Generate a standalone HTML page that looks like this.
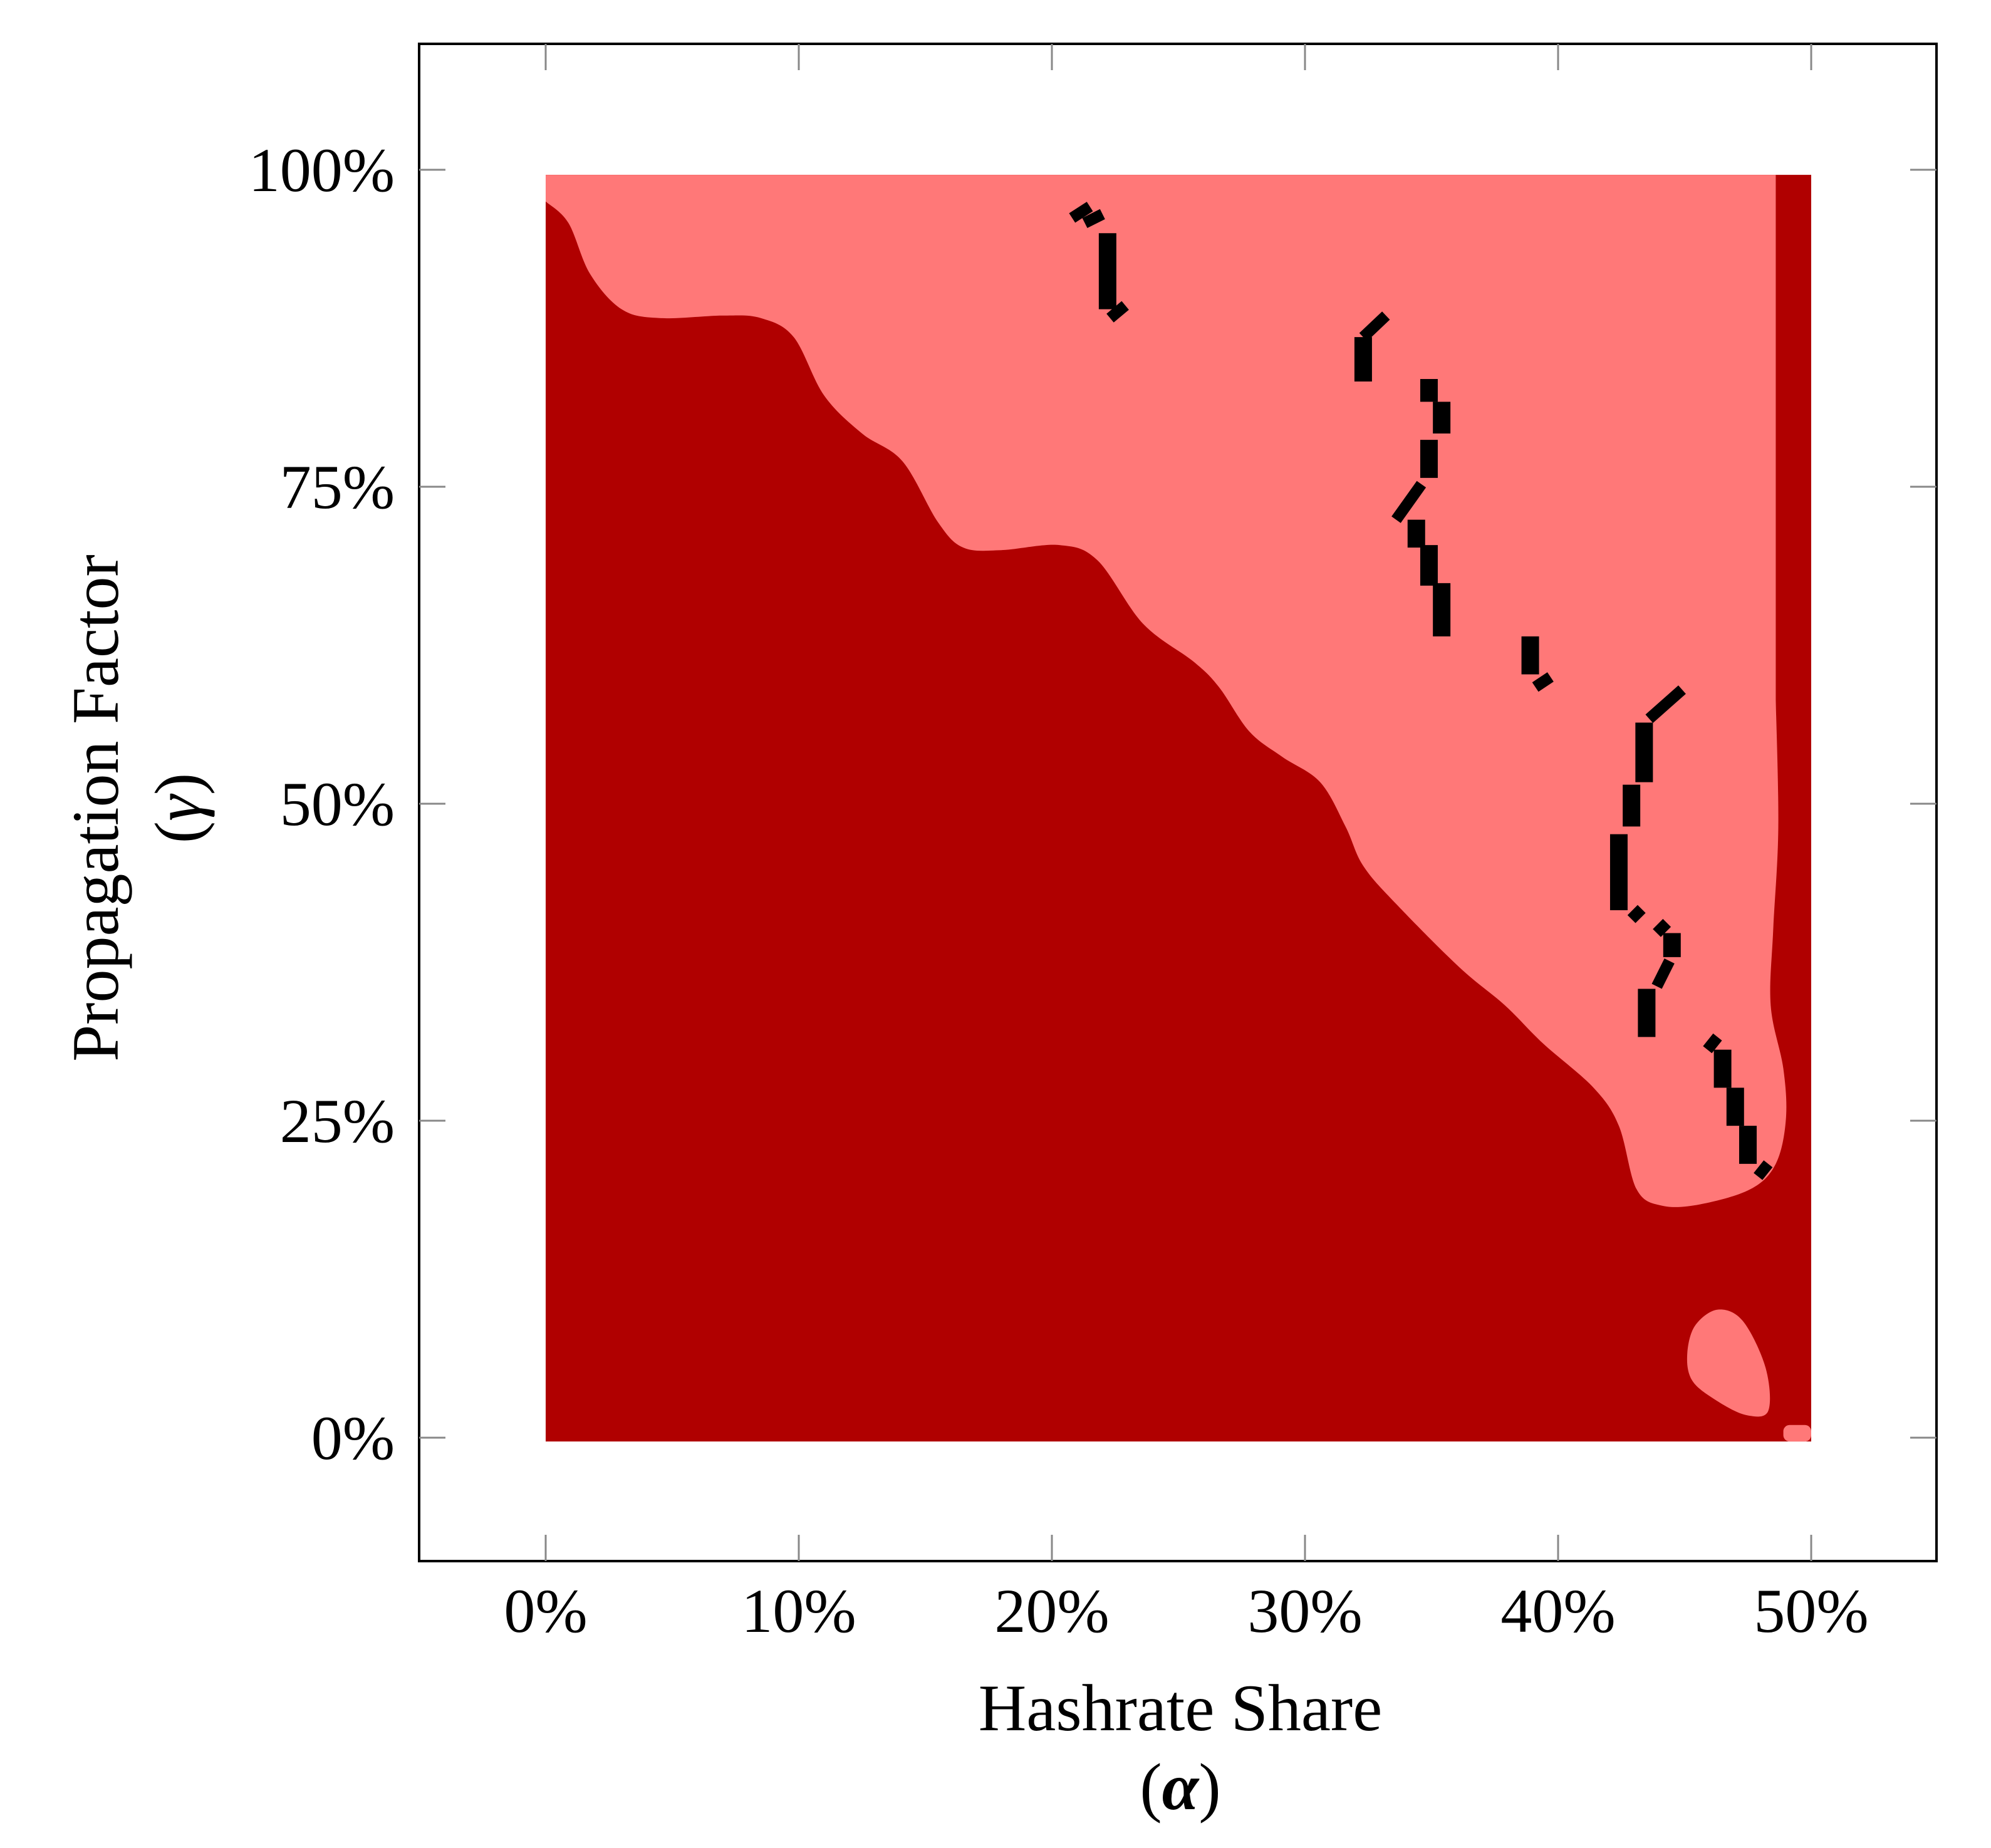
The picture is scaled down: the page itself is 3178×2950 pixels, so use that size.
<!DOCTYPE html>
<html><head><meta charset="utf-8"><style>html,body{margin:0;padding:0;background:#fff}svg{display:block}text{font-family:"Liberation Serif",serif;fill:#000}</style></head>
<body>
<svg id="chart" width="3178" height="2950" viewBox="0 0 3178 2950" xmlns="http://www.w3.org/2000/svg">
<g id="plot"></g>
<g id="marks"></g>
<rect x="669" y="70" width="2422" height="2422" fill="none" stroke="#000" stroke-width="4"/>
<g id="ticks"></g>
<text x="1884" y="2762" font-size="106" text-anchor="middle">Hashrate Share</text>
<text x="1884" y="2888" font-size="106" text-anchor="middle">(<tspan font-weight="bold" font-style="italic">α</tspan>)</text>
<text x="0" y="0" font-size="106" text-anchor="middle" transform="translate(188,1290) rotate(-90)">Propagation Factor</text>
<text x="0" y="0" font-size="106" text-anchor="middle" transform="translate(320,1290) rotate(-90)">(<tspan font-style="italic">γ</tspan>)</text>
</svg>
<script>
const xTicks=[0,10,20,30,40,50];
const yTicks=[0,25,50,75,100];
const boundaryX=[0,0.9,1.75,3,4.5,7,8.5,9.8,11,12.5,14.1,15.5,16.5,18,20.3,21.8,23.6,25.6,26.6,27.8,29.1,30.6,31.6,32.3,33.6,36.1,37.9,39.4,41.4,42.4,43.1,44.1,45.6,47.6,48.6,49,48.9,48.4,48.5,48.7,48.6];
const boundaryY=[97.5,95.8,91.8,89,88.3,88.5,88.3,86.8,82.2,79.2,77,72.2,70.2,70,70.4,69.2,64.2,61.2,59.2,55.7,53.7,51.7,48.2,45.1,42.1,37.1,34.1,31.1,27.6,24.6,19.6,18.3,18.4,19.6,21.6,25.1,29.1,34.1,40.1,48.1,58.2];
const blobX=[45.1,45.4,46.3,47.3,48.2,48.3,47.4,46.2,45.3];
const blobY=[6.5,8.8,10.1,9.2,5.5,2.1,1.8,3.0,4.5];
const segX1=[20.8,21.3,22.2,22.3,32.3,32.3,34.9,35.4,34.9,33.6,34.4,34.9,35.4,38.9,39.1,43.4,43.6,42.9,42.4,42.9,43.9,44.5,43.9,43.5,45.9,46.5,47.0,47.5,47.9];
const segY1=[96.2,95.8,95.0,88.3,83.3,86.8,81.7,79.2,75.7,72.4,70.2,67.2,63.2,60.2,59.2,51.7,56.7,48.2,41.6,40.9,39.8,37.9,35.6,31.6,30.6,27.6,24.6,21.6,20.6];
const segX2=[21.5,22.0,22.2,22.9,32.3,33.2,34.9,35.4,34.9,34.6,34.4,34.9,35.4,38.9,39.7,43.4,44.9,42.9,42.4,43.3,44.3,44.5,44.4,43.5,46.3,46.5,47.0,47.5,48.3];
const segY2=[97.1,96.5,89.0,89.3,86.8,88.5,83.5,81.7,78.7,75.2,72.4,70.4,67.4,63.2,60.0,56.4,59.0,51.5,47.6,41.7,40.6,39.8,37.6,35.4,31.6,30.6,27.6,24.6,21.6];
const X=v=>871+v*40.4, Y=v=>2295-v*20.24;
const NS='http://www.w3.org/2000/svg';
function mk(t,a,p){const e=document.createElementNS(NS,t);for(const k in a)e.setAttribute(k,a[k]);p.appendChild(e);return e;}
function smooth(xs,ys,closed){const P=xs.map((x,i)=>[X(x),Y(ys[i])]);const n=P.length;let d='M'+P[0][0]+','+P[0][1];
 const g=i=>closed?P[(i+n)%n]:P[Math.max(0,Math.min(n-1,i))];const m=closed?n:n-1;
 for(let i=0;i<m;i++){const p0=g(i-1),p1=g(i),p2=g(i+1),p3=g(i+2);
  d+=`C${p1[0]+(p2[0]-p0[0])/6},${p1[1]+(p2[1]-p0[1])/6} ${p2[0]-(p3[0]-p1[0])/6},${p2[1]-(p3[1]-p1[1])/6} ${p2[0]},${p2[1]}`;}
 return d+(closed?'Z':'');}
const plot=document.getElementById('plot');
const dark=mk('rect',{x:X(0),y:Y(99.6),width:X(50)-X(0),height:Y(-0.3)-Y(99.6),fill:'#b00000'},plot);


const n=boundaryX.length;
let d=smooth(boundaryX,boundaryY,false)+`L${X(boundaryX[n-1])},${Y(99.6)}L${X(0)},${Y(99.6)}Z`;
const light=mk('path',{d:d,fill:'#ff7878'},plot);


const blob=mk('path',{d:smooth(blobX,blobY,true),fill:'#ff7878'},plot);


const corner=mk('rect',{x:X(48.9),y:Y(1),width:X(50)-X(48.9),height:Y(-0.3)-Y(1),rx:10,fill:'#ff7878'},plot);


const marks=document.getElementById('marks');
for(let i=0;i<segX1.length;i++){const vert=segX1[i]===segX2[i];
 const l=mk('line',{x1:X(segX1[i]),y1:Y(segY1[i]),x2:X(segX2[i]),y2:Y(segY2[i]),stroke:'#000','stroke-width':vert?28:18,'stroke-linecap':'butt'},marks);
 
 }
const tk=document.getElementById('ticks');
xTicks.forEach(v=>{
 const a=mk('line',{x1:X(v),x2:X(v),y1:2492,y2:2450,stroke:'#888','stroke-width':3},tk);
 
 
 const b=mk('line',{x1:X(v),x2:X(v),y1:70,y2:112,stroke:'#888','stroke-width':3},tk);
 
 
 const t=mk('text',{x:X(v),y:2605,'font-size':100,'text-anchor':'middle'},tk);t.textContent=v+'%';
 
 });
yTicks.forEach(v=>{
 const a=mk('line',{x1:669,x2:711,y1:Y(v),y2:Y(v),stroke:'#888','stroke-width':3},tk);
 
 
 const b=mk('line',{x1:3049,x2:3091,y1:Y(v),y2:Y(v),stroke:'#888','stroke-width':3},tk);
 
 
 const t=mk('text',{x:630,y:Y(v)+34,'font-size':100,'text-anchor':'end'},tk);t.textContent=v+'%';
 
 });
</script>
</body></html>
